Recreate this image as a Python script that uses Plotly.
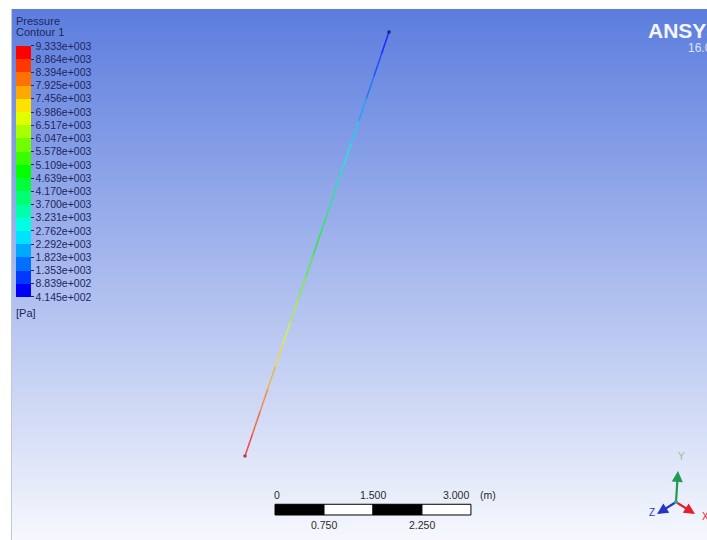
import colorsys
import numpy as np
import plotly.graph_objects as go

# ---- figure geometry -------------------------------------------------------
W, H = 707, 540
ML, MT = 12, 9                    # white border around the viewport
PX_PER_M = 65.3                   # viewport zoom (pixels per metre)
X_SPAN = (W - ML) / PX_PER_M
Y_SPAN = (H - MT) / PX_PER_M

# ---- pipe centre-line stations (m, screen plane) and static pressure (Pa) --
pipe_x = [3.568, 3.844, 4.119, 4.395, 4.671, 4.946, 5.222, 5.498, 5.773]
pipe_y = [1.286, 2.098, 2.910, 3.721, 4.533, 5.345, 6.156, 6.968, 7.779]
pipe_p = [9333.0, 8220.0, 7100.0, 6000.0, 4880.0, 3760.0, 2650.0, 1530.0, 414.5]

# ---- contour legend levels ---------------------------------------------------
legend_levels = [414.5, 883.9, 1353, 1823, 2292, 2762, 3231, 3700, 4170, 4639,
                 5109, 5578, 6047, 6517, 6986, 7456, 7925, 8394, 8864, 9333]
legend_labels = ["4.145e+002", "8.839e+002", "1.353e+003", "1.823e+003",
                 "2.292e+003", "2.762e+003", "3.231e+003", "3.700e+003",
                 "4.170e+003", "4.639e+003", "5.109e+003", "5.578e+003",
                 "6.047e+003", "6.517e+003", "6.986e+003", "7.456e+003",
                 "7.925e+003", "8.394e+003", "8.864e+003", "9.333e+003"]

# ---- scale bar ---------------------------------------------------------------
scale_ticks = [0.0, 0.75, 1.5, 2.25, 3.0]
scale_top_labels = ["0", "1.500", "3.000"]
scale_bottom_labels = ["0.750", "2.250"]

FONT = "Liberation Sans, Arial, sans-serif"
TXT = "#1e2660"

p_min, p_max = legend_levels[0], legend_levels[-1]
n_bands = len(legend_levels) - 1


def band_color(i):
    """Rainbow band colour, i=0 is the lowest (blue) band."""
    hue = (240.0 * (1 - i / (n_bands - 1))) / 360.0
    r, g, b = colorsys.hsv_to_rgb(hue, 1.0, 1.0)
    return f"rgb({int(r * 255)},{int(g * 255)},{int(b * 255)})"


band_colors = [band_color(i) for i in range(n_bands)]

# stepped colour scale so the legend shows discrete bands
colorscale = []
for i, c in enumerate(band_colors):
    lo = (legend_levels[i] - p_min) / (p_max - p_min)
    hi = (legend_levels[i + 1] - p_min) / (p_max - p_min)
    colorscale += [[lo, c], [hi, c]]
colorscale[0][0] = 0.0
colorscale[-1][0] = 1.0


def paper(px, py):
    return (px - ML) / (W - ML), (H - py) / (H - MT)


fig = go.Figure()

# viewport background gradient (blue at top fading to white)
fig.add_trace(go.Heatmap(
    x=[0, X_SPAN], y=[0, Y_SPAN], z=[[0, 0], [1, 1]],
    colorscale=[[0, "rgb(246,248,253)"], [1, "rgb(92,125,222)"]],
    zsmooth="best", showscale=False, hoverinfo="skip",
))

# pipe coloured by contour band
t_st = np.arange(len(pipe_p), dtype=float)
p_rev = np.array(pipe_p[::-1])
t_rev = t_st[::-1]
for i in range(n_bands):
    t_a = float(np.interp(legend_levels[i + 1], p_rev, t_rev))
    t_b = float(np.interp(legend_levels[i], p_rev, t_rev))
    ts = [t_a] + [t for t in t_st if t_a < t < t_b] + [t_b]
    xs = np.interp(ts, t_st, pipe_x)
    ys = np.interp(ts, t_st, pipe_y)
    fig.add_trace(go.Scatter(
        x=xs, y=ys, mode="lines", opacity=0.7,
        line=dict(color=band_colors[i], width=1.5),
        hoverinfo="skip", showlegend=False,
    ))

# pipe end points
fig.add_trace(go.Scatter(
    x=[pipe_x[0], pipe_x[-1]], y=[pipe_y[0], pipe_y[-1]], mode="markers",
    marker=dict(size=3.5, color=["#9a4a4a", "#1c2478"]),
    hoverinfo="skip", showlegend=False,
))

# pressure legend
fig.add_trace(go.Scatter(
    x=pipe_x, y=pipe_y, mode="markers", hoverinfo="skip", showlegend=False,
    marker=dict(
        size=1, opacity=0, color=pipe_p, colorscale=colorscale,
        cmin=p_min, cmax=p_max, showscale=True,
        colorbar=dict(
            xref="container", yref="container",
            x=16 / W, xanchor="left", y=1 - 302 / H, yanchor="bottom",
            lenmode="pixels", len=251, thicknessmode="pixels", thickness=15,
            xpad=0, ypad=0, outlinewidth=0, borderwidth=0,
            tickmode="array", tickvals=legend_levels, ticktext=legend_labels,
            ticks="outside", ticklen=3, tickwidth=1, tickcolor=TXT,
            tickfont=dict(family=FONT, size=10.5, color=TXT),
        ),
    ),
))

shapes = []
annotations = []

# left frame line of the viewport
shapes.append(dict(type="line", xref="paper", yref="paper",
                   x0=-0.0008, x1=-0.0008, y0=0, y1=1,
                   line=dict(color="#c4c4c8", width=1)))

# scale bar
sb_x0, sb_y0, sb_y1 = 4.028, 0.383, 0.547
for k in range(len(scale_ticks) - 1):
    shapes.append(dict(
        type="rect", xref="x", yref="y",
        x0=sb_x0 + scale_ticks[k], x1=sb_x0 + scale_ticks[k + 1],
        y0=sb_y0, y1=sb_y1,
        fillcolor="black" if k % 2 == 0 else "white",
        line=dict(color="black", width=1),
    ))
sb_font = dict(family=FONT, size=10.5, color="#2a2a2a")
top_pos = [scale_ticks[0], scale_ticks[2], scale_ticks[4]]
top_anchor = ["center", "center", "right"]
top_shift = [2, 0, 0]
for v, lab, anc, sh in zip(top_pos, scale_top_labels, top_anchor, top_shift):
    annotations.append(dict(x=sb_x0 + v, y=0.689, xref="x", yref="y", text=lab,
                            showarrow=False, xanchor=anc, yanchor="middle",
                            xshift=sh, font=sb_font))
annotations.append(dict(x=sb_x0 + scale_ticks[-1], y=0.689, xref="x", yref="y",
                        text="(m)", showarrow=False, xanchor="left",
                        yanchor="middle", xshift=7, font=sb_font))
for v, lab in zip([scale_ticks[1], scale_ticks[3]], scale_bottom_labels):
    annotations.append(dict(x=sb_x0 + v, y=0.230, xref="x", yref="y", text=lab,
                            showarrow=False, xanchor="center", yanchor="middle",
                            font=sb_font))

# legend titles
for text, py in [("Pressure", 20.5), ("Contour 1", 32), ("[Pa]", 313)]:
    x, y = paper(14, py)
    annotations.append(dict(x=x, y=y, xref="paper", yref="paper", text=text,
                            showarrow=False, xanchor="left", yanchor="middle",
                            font=dict(family=FONT, size=11, color=TXT)))

# product logo
x, y = paper(646, 31)
annotations.append(dict(x=x, y=y, xref="paper", yref="paper", text="<b>ANSYS</b>",
                        showarrow=False, xanchor="left", yanchor="middle",
                        font=dict(family=FONT, size=21, color="#f4f6ff")))
x, y = paper(686, 48)
annotations.append(dict(x=x, y=y, xref="paper", yref="paper", text="16.0",
                        showarrow=False, xanchor="left", yanchor="middle",
                        font=dict(family=FONT, size=12, color="#dde4fb")))

# axis triad
origin = (676, 502)
triad = [((678, 471), "#1f9a4e", "Y", (681, 456), "#8fc49a"),
         ((657, 514), "#2436c8", "Z", (652, 512), "#2c3ccc"),
         ((695, 514), "#e0222c", "X", (705, 516), "#e0222c")]
for tip, col, lab, lpos, lcol in triad:
    x, y = paper(*tip)
    annotations.append(dict(x=x, y=y, xref="paper", yref="paper", text="",
                            showarrow=True, arrowhead=2, arrowsize=1,
                            arrowwidth=2.2, arrowcolor=col,
                            ax=origin[0] - tip[0], ay=origin[1] - tip[1],
                            standoff=0, startstandoff=0))
    x, y = paper(*lpos)
    annotations.append(dict(x=x, y=y, xref="paper", yref="paper", text=lab,
                            showarrow=False, xanchor="center", yanchor="middle",
                            font=dict(family=FONT, size=10, color=lcol)))
fig.add_trace(go.Scatter(
    x=[(origin[0] - ML) / PX_PER_M], y=[(H - origin[1]) / PX_PER_M],
    mode="markers", marker=dict(size=4, color="#2aa8a0"),
    hoverinfo="skip", showlegend=False,
))

fig.update_layout(
    width=W, height=H,
    margin=dict(l=ML, r=0, t=MT, b=0, pad=0, autoexpand=False),
    paper_bgcolor="white", plot_bgcolor="white",
    xaxis=dict(range=[0, X_SPAN], visible=False, fixedrange=True),
    yaxis=dict(range=[0, Y_SPAN], visible=False, fixedrange=True),
    shapes=shapes, annotations=annotations, showlegend=False,
)

fig.write_html("out.html")
